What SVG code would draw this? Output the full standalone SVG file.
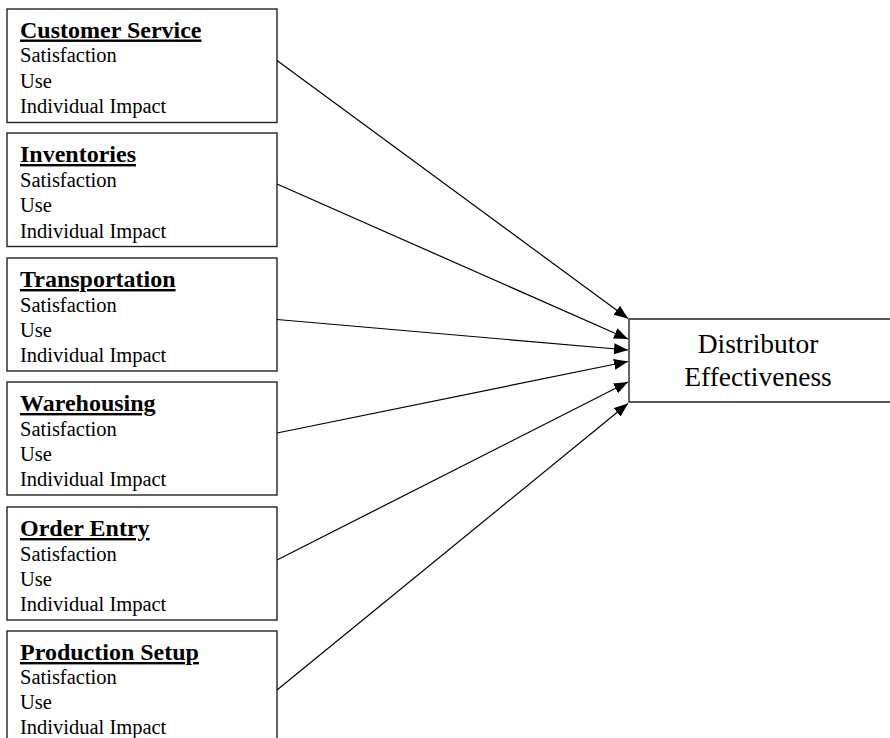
<svg xmlns="http://www.w3.org/2000/svg" width="890" height="738" viewBox="0 0 890 738">
<defs>
<style>
.box{fill:#fff;stroke:#222;stroke-width:1.4}
.t{font-family:"Liberation Serif","Times New Roman",serif;font-size:24px;font-weight:bold;text-decoration:underline;fill:#000}
.b{font-family:"Liberation Serif","Times New Roman",serif;font-size:20.5px;fill:#000}
.d{font-family:"Liberation Serif","Times New Roman",serif;font-size:27.5px;fill:#000;text-anchor:middle}
.c{stroke:#000;stroke-width:1.2;fill:none;marker-end:url(#ah)}
</style>
<marker id="ah" markerUnits="userSpaceOnUse" markerWidth="15" markerHeight="12" refX="14" refY="5.5" orient="auto" viewBox="0 0 15 12">
<path d="M0,0 L14,5.5 L0,11 z" fill="#000"/>
</marker>
</defs>
<rect width="890" height="738" fill="#fff"/>
<g id="customer-service">
<rect class="box" x="7" y="9" width="270" height="113.5"/>
<text class="t" x="20" y="37.5">Customer Service</text>
<text class="b" x="20" y="62">Satisfaction</text>
<text class="b" x="20" y="88">Use</text>
<text class="b" x="20" y="113">Individual Impact</text>
</g>
<g id="inventories">
<rect class="box" x="7" y="133" width="270" height="113.5"/>
<text class="t" x="20" y="162">Inventories</text>
<text class="b" x="20" y="186.5">Satisfaction</text>
<text class="b" x="20" y="212">Use</text>
<text class="b" x="20" y="237.5">Individual Impact</text>
</g>
<g id="transportation">
<rect class="box" x="7" y="258" width="270" height="113"/>
<text class="t" x="20" y="287">Transportation</text>
<text class="b" x="20" y="311.5">Satisfaction</text>
<text class="b" x="20" y="337">Use</text>
<text class="b" x="20" y="362">Individual Impact</text>
</g>
<g id="warehousing">
<rect class="box" x="7" y="382" width="270" height="113"/>
<text class="t" x="20" y="411">Warehousing</text>
<text class="b" x="20" y="435.5">Satisfaction</text>
<text class="b" x="20" y="461">Use</text>
<text class="b" x="20" y="486">Individual Impact</text>
</g>
<g id="order-entry">
<rect class="box" x="7" y="507" width="270" height="113"/>
<text class="t" x="20" y="536">Order Entry</text>
<text class="b" x="20" y="560.5">Satisfaction</text>
<text class="b" x="20" y="586">Use</text>
<text class="b" x="20" y="611">Individual Impact</text>
</g>
<g id="production-setup">
<rect class="box" x="7" y="631" width="270" height="115"/>
<text class="t" x="20" y="660">Production Setup</text>
<text class="b" x="20" y="684">Satisfaction</text>
<text class="b" x="20" y="709">Use</text>
<text class="b" x="20" y="734">Individual Impact</text>
</g>
<g id="distributor-effectiveness">
<path class="box" d="M892,319 L629,319 L629,402 L892,402"/>
<text class="d" x="758" y="353">Distributor</text>
<text class="d" x="758" y="386">Effectiveness</text>
</g>
<g id="connectors">
<line class="c" x1="277" y1="60.5" x2="628" y2="318.5"/>
<line class="c" x1="277" y1="184" x2="628" y2="339"/>
<line class="c" x1="277" y1="319.5" x2="628" y2="350"/>
<line class="c" x1="277" y1="433" x2="628" y2="361.5"/>
<line class="c" x1="277" y1="560" x2="628" y2="382"/>
<line class="c" x1="277" y1="690" x2="628" y2="403.5"/>
</g>
</svg>
